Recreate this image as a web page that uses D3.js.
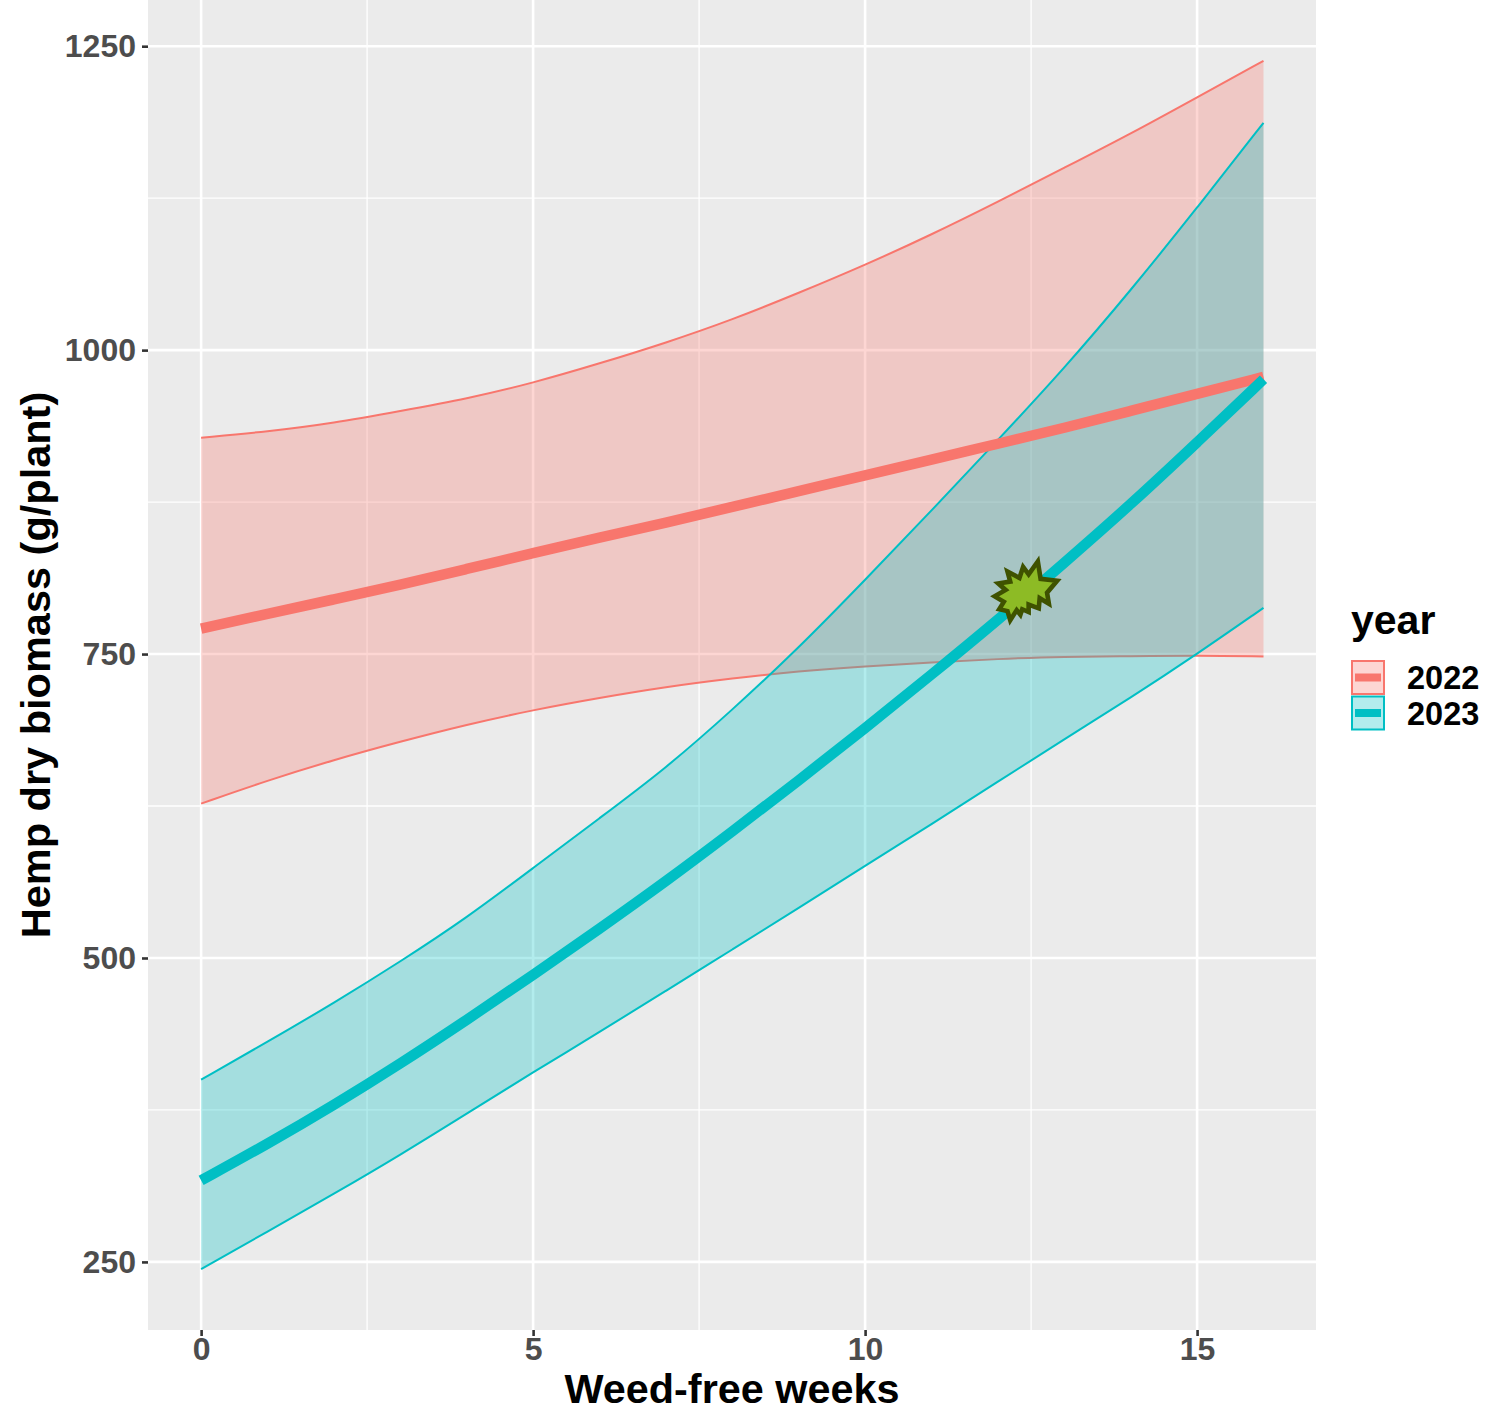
<!DOCTYPE html>
<html>
<head>
<meta charset="utf-8">
<script src="https://cdn.jsdelivr.net/npm/d3@7"></script>
<style>
  html, body { margin: 0; padding: 0; background: #fff; }
  text { font-family: "Liberation Sans", Arial, sans-serif; font-weight: bold; }
</style>
</head>
<body>
<div id="chart"></div>
<script>
// values, one per week
var weeks = [0,1,2,3,4,5,6,7,8,9,10,11,12,13,14,15,16];
var years = ["2022","2023"];
var colors = ["#F8766D","#00BFC4"];

var mean2022 = [771,783,795,807,820,833,846,858,871,884,897,910,923,936,950,964,978];
var upper2022 = [928,933,940,950,960,973,989,1006,1025,1047,1070,1095,1122,1150,1178,1208,1238];
var lower2022 = [627,646,663,678,692,704,714,723,730,736,740,743,746,748,748,749,748];

var mean2023 = [317,347,379,413,449,486,524,563,604,646,689,733,778,825,873,924,976];
var upper2023 = [400,431,463,497,533,574,615,656,704,755,811,868,926,985,1049,1117,1187];
var lower2023 = [244,275,306,338,372,406,439,473,507,541,576,610,645,680,714,750,788];

var xTicks = [0,5,10,15];
var xMinor = [2.5,7.5,12.5];
var yTicks = [250,500,750,1000,1250];
var yMinor = [375,625,875,1125];

var starWeek = 12.38, starBiomass = 802;
// outline of the burst marker, offsets from its centre
var starShape = [[37,-11],[26,2],[28,14],[18,8],[17,19],[6,15],[6,23],[-1,20],[-3,26],[-7,21],[-14,32],[-17,22],[-26,20],[-21,12],[-31,6],[-19,-1],[-27,-8],[-14,-10],[-17,-21],[-4,-14],[0,-26],[6,-18],[16,-32],[19,-13]];

var width = 1485, height = 1411,
    margin = {top: 0, right: 169, bottom: 81, left: 148},
    w = width - margin.left - margin.right,
    h = height - margin.top - margin.bottom;

var svg = d3.select("#chart").append("svg").attr("width", width).attr("height", height)
    .style("display", "block");

var x = d3.scaleLinear().domain([-0.8, 16.8]).range([0, w + 0.6]);
var y = d3.scaleLinear().domain([194, 1288]).range([h, 0]);

var g = svg.append("g").attr("transform", "translate(" + margin.left + "," + margin.top + ")");

g.append("rect").attr("width", w).attr("height", h).attr("fill", "#EBEBEB");

// grid
g.selectAll(".minorX").data(xMinor).enter().append("line").attr("class", "minorX")
  .attr("x1", function(d) { return x(d); }).attr("x2", function(d) { return x(d); })
  .attr("y1", 0).attr("y2", h).attr("stroke", "#fff").attr("stroke-width", 1.3);
g.selectAll(".minorY").data(yMinor).enter().append("line").attr("class", "minorY")
  .attr("y1", function(d) { return y(d); }).attr("y2", function(d) { return y(d); })
  .attr("x1", 0).attr("x2", w).attr("stroke", "#fff").attr("stroke-width", 1.3);
g.selectAll(".majorX").data(xTicks).enter().append("line").attr("class", "majorX")
  .attr("x1", function(d) { return x(d); }).attr("x2", function(d) { return x(d); })
  .attr("y1", 0).attr("y2", h).attr("stroke", "#fff").attr("stroke-width", 2.6);
g.selectAll(".majorY").data(yTicks).enter().append("line").attr("class", "majorY")
  .attr("y1", function(d) { return y(d); }).attr("y2", function(d) { return y(d); })
  .attr("x1", 0).attr("x2", w).attr("stroke", "#fff").attr("stroke-width", 2.6);

// axes
var xAxis = g.append("g").attr("transform", "translate(0," + h + ")")
  .call(d3.axisBottom(x).tickValues(xTicks).tickFormat(d3.format("d")).tickSize(6).tickPadding(1));
var yAxis = g.append("g")
  .call(d3.axisLeft(y).tickValues(yTicks).tickFormat(d3.format("d")).tickSize(6).tickPadding(6));
[xAxis, yAxis].forEach(function(a) {
  a.select(".domain").remove();
  a.selectAll("line").attr("stroke", "#333").attr("stroke-width", 2.6);
  a.selectAll("text").attr("fill", "#4D4D4D").attr("font-size", "32px");
});

svg.append("text").attr("x", 732).attr("y", 1402.5).attr("text-anchor", "middle")
  .attr("font-size", "40px").attr("textLength", 335).attr("lengthAdjust", "spacingAndGlyphs")
  .attr("fill", "#000").text("Weed-free weeks");
svg.append("text").attr("transform", "translate(50,665) rotate(-90)").attr("text-anchor", "middle")
  .attr("font-size", "41.5px").attr("fill", "#000").text("Hemp dry biomass (g/plant)");

// ribbons and fits
var area = d3.area().x(function(d) { return x(d.week); })
  .y0(function(d) { return y(d.lo); }).y1(function(d) { return y(d.hi); })
  .curve(d3.curveBasis);
var line = d3.line().x(function(d) { return x(d.week); })
  .y(function(d) { return y(d.v); }).curve(d3.curveBasis);

function rows(vals) {
  return weeks.map(function(k, i) { return {week: k, v: vals[i]}; });
}
var series = [
  {mean: mean2022, upper: upper2022, lower: lower2022, color: colors[0]},
  {mean: mean2023, upper: upper2023, lower: lower2023, color: colors[1]}
];

series.forEach(function(s) {
  var band = weeks.map(function(k, i) { return {week: k, lo: s.lower[i], hi: s.upper[i]}; });
  g.append("path").datum(band).attr("d", area).attr("fill", s.color).attr("fill-opacity", 0.3);
  g.append("path").datum(rows(s.upper)).attr("d", line).attr("fill", "none").attr("stroke", s.color).attr("stroke-width", 2);
  g.append("path").datum(rows(s.lower)).attr("d", line).attr("fill", "none").attr("stroke", s.color).attr("stroke-width", 2);
});
series.forEach(function(s) {
  g.append("path").datum(rows(s.mean)).attr("d", line).attr("fill", "none").attr("stroke", s.color).attr("stroke-width", 10.5);
});

// burst marker
g.append("path")
  .attr("transform", "translate(" + x(starWeek) + "," + y(starBiomass) + ") scale(0.92)")
  .attr("d", d3.line()(starShape) + "Z")
  .attr("fill", "#8DBB25").attr("stroke", "#3F5200").attr("stroke-width", 5)
  .attr("stroke-linejoin", "miter");

// legend
var legend = svg.append("g").attr("transform", "translate(1351,0)");
legend.append("text").attr("x", 0).attr("y", 634).attr("font-size", "41px").attr("fill", "#000").text("year");
var keys = legend.selectAll(".key").data(years).enter().append("g").attr("class", "key")
  .attr("transform", function(d, i) { return "translate(0," + (660 + i * 35.5) + ")"; });
keys.append("rect").attr("x", 1).attr("y", 1).attr("width", 32).attr("height", 33)
  .attr("fill", "#fff");
keys.append("rect").attr("x", 1).attr("y", 1).attr("width", 32).attr("height", 33)
  .attr("fill", function(d, i) { return colors[i]; }).attr("fill-opacity", 0.3)
  .attr("stroke", function(d, i) { return colors[i]; }).attr("stroke-width", 2);
keys.append("line").attr("x1", 4).attr("x2", 30).attr("y1", 17.5).attr("y2", 17.5)
  .attr("stroke", function(d, i) { return colors[i]; }).attr("stroke-width", 8);
keys.append("text").attr("x", 56).attr("y", 29).attr("font-size", "32.5px").attr("fill", "#000")
  .text(function(d) { return d; });
</script>
</body>
</html>
